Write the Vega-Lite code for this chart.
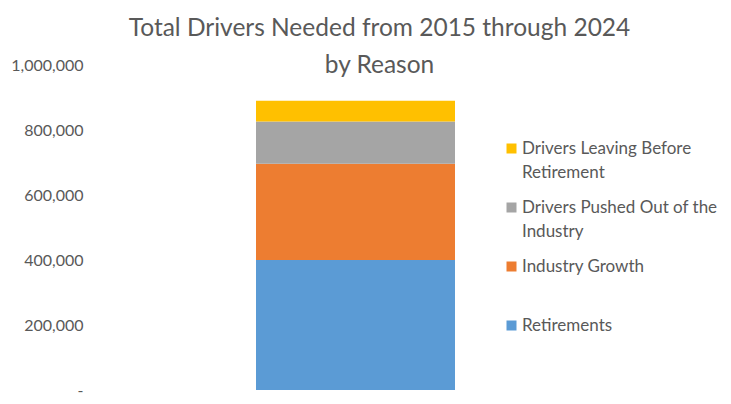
{
  "$schema": "https://vega.github.io/schema/vega-lite/v6.json",
  "width": 531,
  "height": 325,
  "autosize": {"type": "none"},
  "padding": {"left": 90, "top": 65, "right": 110, "bottom": 14},
  "background": "white",
  "title": {
    "text": ["Total Drivers Needed from 2015 through 2024", "by Reason"],
    "font": "Lato",
    "fontSize": 24.5,
    "fontWeight": "normal",
    "color": "#595959",
    "anchor": "middle",
    "frame": "group",
    "dx": 24,
    "offset": -21,
    "lineHeight": 37
  },
  "data": {
    "values": [
      {"category": "Total", "reason": "Retirements", "value": 400000, "order": 1},
      {"category": "Total", "reason": "Industry Growth", "value": 296000, "order": 2},
      {"category": "Total", "reason": "Drivers Pushed Out of the Industry", "value": 130000, "order": 3},
      {"category": "Total", "reason": "Drivers Leaving Before Retirement", "value": 64000, "order": 4}
    ]
  },
  "mark": {"type": "bar", "width": 199},
  "encoding": {
    "x": {"field": "category", "type": "nominal", "axis": null},
    "y": {
      "field": "value",
      "type": "quantitative",
      "stack": "zero",
      "scale": {"domain": [0, 1000000]},
      "axis": {
        "title": null,
        "grid": false,
        "domain": false,
        "ticks": false,
        "values": [0, 200000, 400000, 600000, 800000, 1000000],
        "labelExpr": "datum.value == 0 ? '-\u00a0\u00a0' : format(datum.value, ',')",
        "labelFont": "Lato",
        "labelFontSize": 16,
        "labelColor": "#595959",
        "labelPadding": 7
      }
    },
    "order": {"field": "order", "type": "quantitative"},
    "color": {
      "field": "reason",
      "type": "nominal",
      "scale": {
        "domain": ["Drivers Leaving Before Retirement", "Drivers Pushed Out of the Industry", "Industry Growth", "Retirements"],
        "range": ["#FFC000", "#A5A5A5", "#ED7D31", "#5B9BD5"]
      },
      "legend": {
        "title": null,
        "orient": "none",
        "legendX": 413,
        "legendY": 75,
        "symbolType": "square",
        "symbolSize": 100,
        "symbolStrokeWidth": 0,
        "labelFont": "Lato",
        "labelFontSize": 17,
        "labelColor": "#595959",
        "labelLimit": 300,
        "labelOffset": 2,
        "gridAlign": "all",
        "rowPadding": 17,
        "labelExpr": "datum.label == 'Drivers Leaving Before Retirement' ? ['Drivers Leaving Before', 'Retirement'] : datum.label == 'Drivers Pushed Out of the Industry' ? ['Drivers Pushed Out of the', 'Industry'] : datum.label"
      }
    }
  },
  "config": {
    "view": {"stroke": null},
    "style": {"guide-label": {"lineHeight": 24}}
  }
}
